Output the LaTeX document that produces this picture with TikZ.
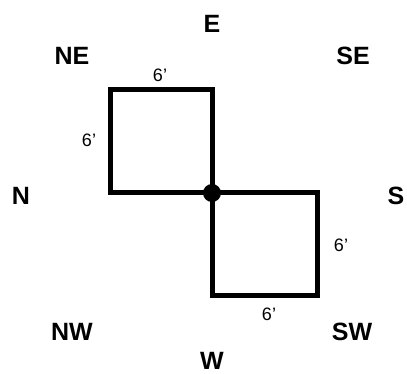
\documentclass[tikz,border=0pt]{standalone}
\usepackage{fontspec}
\setmainfont{Liberation Sans}
\usetikzlibrary{calc}

\begin{document}
\begin{tikzpicture}[x=1pt,y=-1pt,
    dir/.style={font=\bfseries\fontsize{25}{25}\selectfont},
    len/.style={font=\fontsize{18}{18}\selectfont},
    wall/.style={line width=5pt}]
  \useasboundingbox (0,0) rectangle (407,374);

  % compass points
  \node[dir] (E)  at (212,24)  {E};
  \node[dir] (NE) at (72,56)   {NE};
  \node[dir] (SE) at (353,56)  {SE};
  \node[dir] (N)  at (21,196)  {N};
  \node[dir] (S)  at (396,196) {S};
  \node[dir] (NW) at (72,332)  {NW};
  \node[dir] (SW) at (352,332) {SW};
  \node[dir] (W)  at (212,361) {W};

  % the two squares
  \coordinate (TL) at (110,90);
  \coordinate (C)  at (212,193);
  \coordinate (BR) at (317,295);
  \draw[wall] (TL) rectangle (C);
  \draw[wall] (C) rectangle (BR);
  \fill (C) circle (9);

  % lengths
  \node[len] (L1) at (160,75)  {6'};
  \node[len] (L2) at (89,140)  {6'};
  \node[len] (L3) at (341,245) {6'};
  \node[len] (L4) at (269,314) {6'};
\end{tikzpicture}
\end{document}
